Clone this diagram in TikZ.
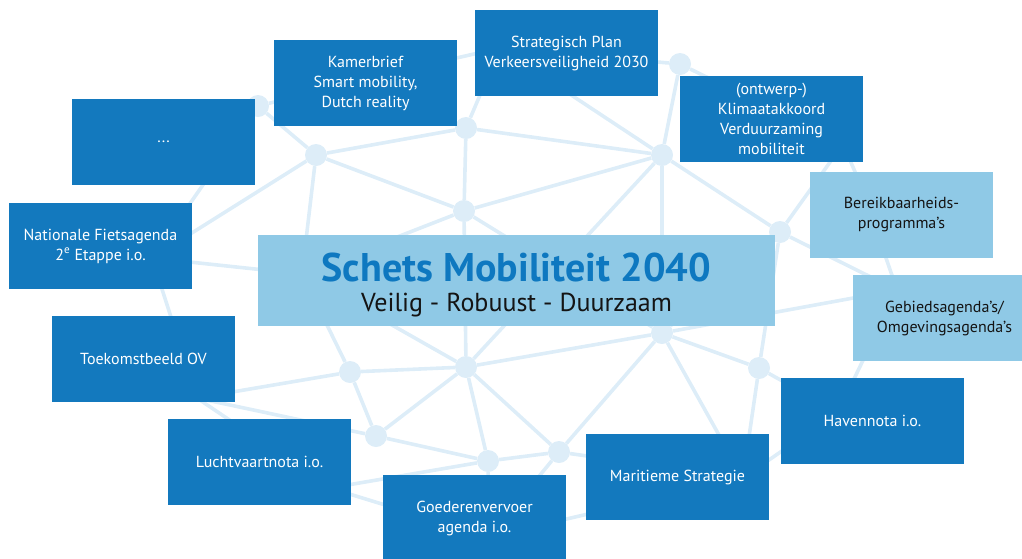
\documentclass[tikz,border=0pt]{standalone}
\usepackage{fontspec}
\setmainfont{PT Sans}
\newfontfamily\titlefam{PT Sans Bold}
\definecolor{netc}{RGB}{221,237,248}
\definecolor{boxd}{RGB}{19,121,190}
\definecolor{boxl}{RGB}{143,201,230}
\definecolor{titlec}{RGB}{14,120,192}
\definecolor{txtd}{RGB}{20,20,20}
\begin{document}
\begin{tikzpicture}[x=1pt,y=-1pt,
  net/.style={draw=netc,line width=3.6pt},
  netdot/.style={circle,fill=netc,minimum size=22pt,inner sep=0pt},
  darkbox/.style={fill=boxd,text=white,minimum width=183pt,minimum height=86pt,
    align=center,inner sep=0pt,font=\fontsize{16}{20}\selectfont},
  lightbox/.style={darkbox,fill=boxl,text=txtd}]
\useasboundingbox (0,0) rectangle (1022,558);
% visible network nodes
\node[netdot] (A) at (258,106) {};
\node[netdot] (B) at (316,155) {};
\node[netdot] (C) at (466,128) {};
\node[netdot] (D) at (464,211) {};
\node[netdot] (E) at (680,64) {};
\node[netdot] (F) at (662,155) {};
\node[netdot] (G) at (780,232) {};
\node[netdot] (H) at (350,372) {};
\node[netdot] (I) at (466,367) {};
\node[netdot] (J) at (376,436) {};
\node[netdot] (K) at (488,461) {};
\node[netdot] (L) at (662,333) {};
\node[netdot] (M) at (759,368) {};
\node[netdot] (N) at (559,452) {};
% hidden network points (under the boxes)
\coordinate (h1) at (302,274);
\coordinate (n1) at (152,258);
\coordinate (t1) at (197,398);
\coordinate (k1) at (400,71);
\coordinate (s1) at (500,48);
\coordinate (kl) at (843,144);
\coordinate (b1) at (862,188);
\coordinate (hgeb) at (897,290);
\coordinate (hhav) at (838,412);
\coordinate (hmar) at (743,478);
\coordinate (hgoe) at (489,537);
\coordinate (hlu) at (330,488);
% network lines
\foreach \a/\b in {A/B,A/n1,A/k1,B/C,B/D,B/h1,B/n1,C/D,C/F,C/s1,D/F,D/h1,D/L,D/I,
  E/s1,E/F,E/kl,F/G,F/I,F/L,F/s1,G/kl,G/hgeb,G/L,G/M,H/h1,H/t1,H/I,H/J,
  I/h1,I/L,I/K,I/N,I/J,J/K,J/t1,K/N,K/hlu,K/hgoe,L/N,L/M,L/hmar,L/hgeb,
  M/hmar,M/hhav,N/hgoe,N/hmar,k1/s1,kl/b1,b1/hgeb,hgeb/hhav,hmar/hhav,
  hgoe/hmar,hlu/hgoe,t1/hlu,t1/n1,n1/h1}
  \draw[net] (\a) -- (\b);
% boxes
\node[darkbox] (dots) at (163.5,142) {...};
\node[darkbox] (kam) at (365.5,83) {Kamerbrief\\Smart mobility,\\Dutch reality};
\node[darkbox] (str) at (566.5,53) {Strategisch Plan\\Verkeersveiligheid 2030};
\node[darkbox] (kli) at (771.5,119) {(ontwerp-)\\Klimaatakkoord\\Verduurzaming\\mobiliteit};
\node[lightbox] (ber) at (901.5,215) {Bereikbaarheids-\\programma’s};
\node[lightbox] (geb) at (944.5,318) {Gebiedsagenda’s/\\Omgevingsagenda’s};
\node[darkbox] (nat) at (100.5,246) {Nationale Fietsagenda\\2\textsuperscript{e} Etappe i.o.};
\node[darkbox] (toe) at (143.5,359) {Toekomstbeeld OV};
\node[darkbox] (luc) at (259.5,462) {Luchtvaartnota i.o.};
\node[darkbox] (goe) at (474.5,518) {Goederenvervoer\\agenda i.o.};
\node[darkbox] (mar) at (677.5,477) {Maritieme Strategie};
\node[darkbox] (hav) at (872.5,421) {Havennota i.o.};
\node[fill=boxl,minimum width=517pt,minimum height=91pt,inner sep=0pt] (cen) at (516.5,280.5) {};
\node[anchor=base,inner sep=0pt,text=titlec,font=\titlefam\fontsize{40}{42}\selectfont]
  (title) at (516.5,281) {Schets Mobiliteit 2040};
\node[anchor=base,inner sep=0pt,text=txtd,font=\fontsize{26}{28}\selectfont]
  (sub) at (516.5,311) {Veilig - Robuust - Duurzaam};
\end{tikzpicture}
\end{document}
